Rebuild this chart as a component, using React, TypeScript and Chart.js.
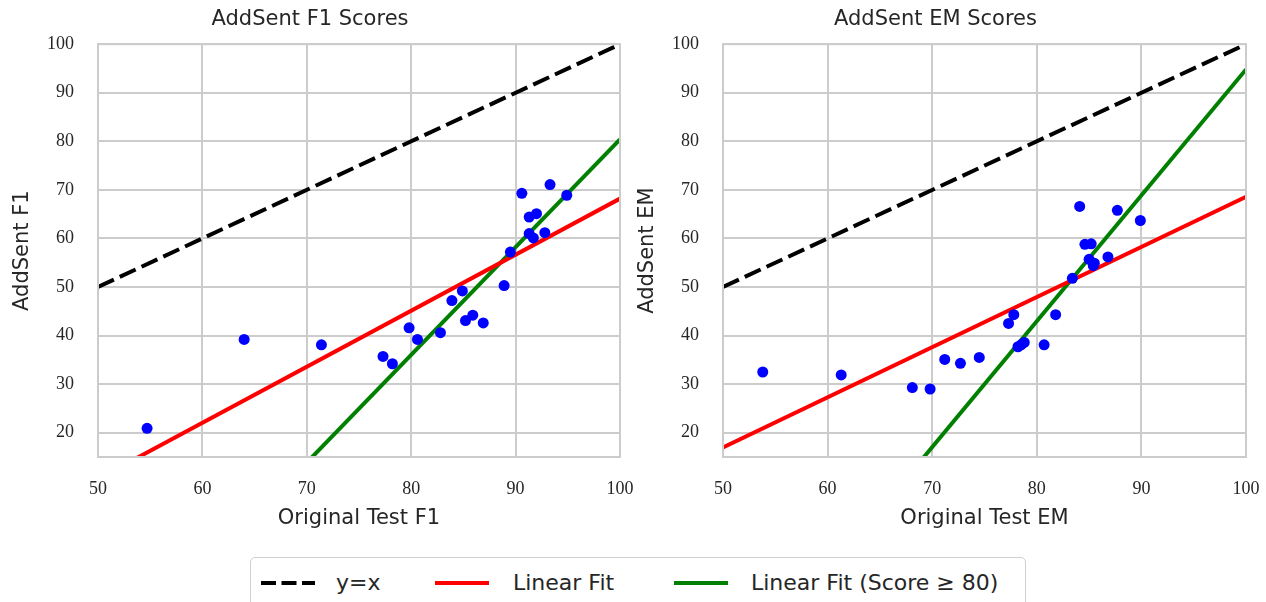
import React, { useEffect, useRef } from "react";
import { Chart, registerables } from "chart.js";

Chart.register(...registerables);

// ---- Data ----
const f1Original = [54.7, 64.0, 71.4, 77.3, 78.2, 79.8, 80.6, 82.8, 83.9, 84.9, 85.2, 85.9, 86.9, 88.9, 89.5, 90.6, 93.3, 94.9, 91.3, 92.0, 91.3, 91.7, 92.8];
const f1AddSent = [20.9, 39.2, 38.1, 35.7, 34.2, 41.6, 39.2, 40.6, 47.2, 49.2, 43.1, 44.2, 42.6, 50.3, 57.2, 69.3, 71.1, 68.9, 64.4, 65.1, 61.0, 60.1, 61.2];

const emOriginal = [53.8, 61.3, 68.1, 69.8, 71.2, 72.7, 74.5, 77.3, 77.8, 78.2, 78.5, 78.8, 80.7, 81.8, 83.4, 84.1, 84.6, 85.2, 85.0, 85.4, 85.5, 86.8, 87.7, 89.9];
const emAddSent = [32.5, 31.9, 29.3, 29.0, 35.1, 34.3, 35.5, 42.5, 44.3, 37.7, 38.1, 38.6, 38.1, 44.3, 51.8, 66.6, 58.8, 58.9, 55.7, 54.4, 54.9, 56.2, 65.8, 63.7];

const fitX = [50, 100];
const identityY = [50, 100];
const f1FitAll = [10.5, 68.2];
const f1FitHigh = [-30.5, 80.4];
const emFitAll = [16.95, 68.6];
const emFitHigh = [-34.8, 94.8];

const xTicks = [50, 60, 70, 80, 90, 100];
const yTicks = [20, 30, 40, 50, 60, 70, 80, 90, 100];

const legendLabels = ["y=x", "Linear Fit", "Linear Fit (Score \u2265 80)"];

const TEXT = "#262626";
const GRID = "#cccccc";
const SANS = "'DejaVu Sans', sans-serif";
const SERIF = "'Liberation Serif', serif";

function makeConfig(title: string, xLabel: string, yLabel: string, xs: number[], ys: number[], fitAll: number[], fitHigh: number[]): any {
  const line = (vals: number[]) => fitX.map((x, i) => ({ x, y: vals[i] }));
  return {
    type: "scatter",
    data: {
      datasets: [
        {
          label: "points",
          data: xs.map((x, i) => ({ x, y: ys[i] })),
          backgroundColor: "#0000ff",
          borderWidth: 0,
          pointRadius: 5.5,
          pointHoverRadius: 5.5,
          clip: 0,
        },
        {
          type: "line",
          label: legendLabels[1],
          data: line(fitAll),
          borderColor: "#ff0000",
          borderWidth: 4,
          pointRadius: 0,
          fill: false,
          clip: 0,
        },
        {
          type: "line",
          label: legendLabels[2],
          data: line(fitHigh),
          borderColor: "#008000",
          borderWidth: 4,
          pointRadius: 0,
          fill: false,
          clip: 0,
        },
        {
          type: "line",
          label: legendLabels[0],
          data: line(identityY),
          borderColor: "#000000",
          borderWidth: 4,
          borderDash: [17.5, 6.5],
          pointRadius: 0,
          fill: false,
          clip: 0,
        },
      ],
    },
    options: {
      animation: false,
      responsive: false,
      maintainAspectRatio: false,
      events: [],
      layout: { padding: { left: 0, right: 20, top: 0, bottom: 0 } },
      plugins: {
        legend: { display: false },
        tooltip: { enabled: false },
        title: {
          display: true,
          text: title,
          color: TEXT,
          font: { family: SANS, size: 21, weight: "normal", lineHeight: 1.2 },
          padding: { top: 7, bottom: 12 },
        },
      },
      scales: {
        x: {
          type: "linear",
          min: 50,
          max: 100,
          afterBuildTicks: (s: any) => { s.ticks = xTicks.map((v) => ({ value: v })); },
          afterFit: (s: any) => { s.height = 83; s.paddingLeft = 0; s.paddingRight = 0; },
          ticks: { color: TEXT, font: { family: SERIF, size: 18 }, padding: 21, maxRotation: 0 },
          grid: { color: GRID, lineWidth: 2, drawTicks: false },
          border: { display: true, color: GRID, width: 2 },
          title: {
            display: true,
            text: xLabel,
            color: TEXT,
            font: { family: SANS, size: 21, lineHeight: 1.2 },
            padding: { top: 0, bottom: 8.5 },
          },
        },
        y: {
          type: "linear",
          min: 15,
          max: 100,
          afterBuildTicks: (s: any) => { s.ticks = yTicks.map((v) => ({ value: v })); },
          afterFit: (s: any) => { s.width = 98; s.paddingTop = 0; s.paddingBottom = 0; },
          ticks: { color: TEXT, font: { family: SERIF, size: 18 }, padding: 24 },
          grid: { color: GRID, lineWidth: 2, drawTicks: false },
          border: { display: true, color: GRID, width: 2 },
          title: {
            display: true,
            text: yLabel,
            color: TEXT,
            font: { family: SANS, size: 21, lineHeight: 1.2 },
            padding: { top: 9.5, bottom: 0 },
          },
        },
      },
    },
  };
}

// draw full frame around chart area
const framePlugin = {
  id: "frame",
  afterDraw(chart: any) {
    const { ctx, chartArea } = chart;
    ctx.save();
    ctx.strokeStyle = GRID;
    ctx.lineWidth = 2;
    ctx.strokeRect(chartArea.left, chartArea.top, chartArea.right - chartArea.left, chartArea.bottom - chartArea.top);
    ctx.restore();
  },
};

function ChartCanvas(props: { config: any; left: number; width: number }) {
  const ref = useRef<HTMLCanvasElement | null>(null);
  useEffect(() => {
    if (!ref.current) return;
    const cfg = props.config;
    cfg.plugins = [framePlugin];
    const chart = new Chart(ref.current, cfg);
    return () => chart.destroy();
  }, []);
  return (
    <canvas
      ref={ref}
      width={props.width}
      height={540}
      style={{ position: "absolute", left: props.left, top: 0, width: props.width, height: 540 }}
    />
  );
}

function Sample(props: { color: string; dashed?: boolean }) {
  return (
    <svg width={54} height={10} style={{ display: "block" }}>
      <line
        x1={0}
        y1={5}
        x2={54}
        y2={5}
        stroke={props.color}
        strokeWidth={4}
        strokeDasharray={props.dashed ? "15 5.5" : undefined}
      />
    </svg>
  );
}

export default function App() {
  useEffect(() => {
    document.body.style.margin = "0";
  }, []);
  const f1Config = makeConfig("AddSent F1 Scores", "Original Test F1", "AddSent F1", f1Original, f1AddSent, f1FitAll, f1FitHigh);
  const emConfig = makeConfig("AddSent EM Scores", "Original Test EM", "AddSent EM", emOriginal, emAddSent, emFitAll, emFitHigh);
  const textStyle: any = {
    position: "absolute",
    top: 10,
    fontFamily: SANS,
    fontSize: 22,
    color: TEXT,
    lineHeight: "30px",
    whiteSpace: "nowrap",
  };
  return (
    <div style={{ position: "fixed", left: 0, top: 0, width: 1266, height: 602, overflow: "hidden", background: "#fff" }}>
      <ChartCanvas config={f1Config} left={0} width={640} />
      <ChartCanvas config={emConfig} left={625} width={641} />
      <div
        style={{
          position: "absolute",
          left: 250,
          top: 557,
          width: 776,
          height: 60,
          border: "1.5px solid #d0d0d0",
          borderRadius: 5,
          boxSizing: "border-box",
          background: "#fff",
        }}
      >
        <div style={{ position: "absolute", left: 10, top: 20 }}><Sample color="#000000" dashed /></div>
        <div style={{ ...textStyle, left: 85 }}>{legendLabels[0]}</div>
        <div style={{ position: "absolute", left: 184, top: 20 }}><Sample color="#ff0000" /></div>
        <div style={{ ...textStyle, left: 262 }}>{legendLabels[1]}</div>
        <div style={{ position: "absolute", left: 423, top: 20 }}><Sample color="#008000" /></div>
        <div style={{ ...textStyle, left: 500 }}>{legendLabels[2]}</div>
      </div>
    </div>
  );
}
